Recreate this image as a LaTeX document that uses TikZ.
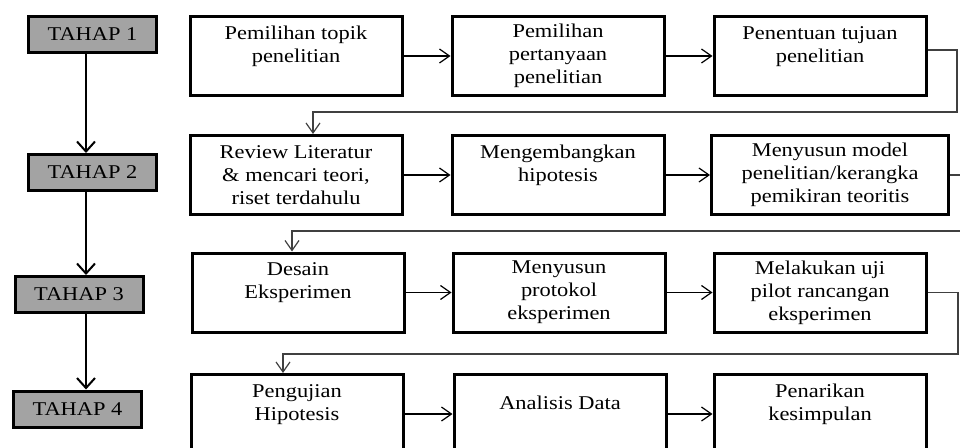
\documentclass[tikz,border=0pt]{standalone}
\usepackage{fontspec}
\setmainfont{Liberation Serif}[FakeStretch=1.15]
\usetikzlibrary{arrows.meta}

\begin{document}
\begin{tikzpicture}[x=1pt,y=-1pt]
	\tikzstyle{every node}+=[inner sep=0pt, align=center, font=\fontsize{19.5}{23}\selectfont]
	\tikzstyle{tahap}=[draw=black, line width=3pt, fill=black!36, minimum width=128pt, minimum height=36pt]
	\tikzstyle{proses}=[draw=black, line width=3pt, fill=white, minimum width=212pt, minimum height=79pt]
	\tikzstyle{panah}=[black, line width=1.2pt, -{Straight Barb[length=10pt,width=14pt]}]
	\tikzstyle{turun}=[black, line width=2pt, -{Straight Barb[length=10pt,width=18pt]}]
	\tikzstyle{belok}=[black!75, line width=1.2pt, -{Straight Barb[length=10pt,width=14pt]}]
	\clip (0,0) rectangle (960,447);
	\node [tahap] (t1) at (92.5,34.5) {TAHAP 1};
	\node [tahap] (t2) at (92.5,172.5) {TAHAP 2};
	\node [tahap] (t3) at (79,294.5) {TAHAP 3};
	\node [tahap] (t4) at (77.5,409) {TAHAP 4};
	\coordinate (sumbu) at (86,0);
	\draw [turun] (t1.south -| sumbu) -- (t2.north -| sumbu);
	\draw [turun] (t2.south -| sumbu) -- (t3.north -| sumbu);
	\draw [turun] (t3.south -| sumbu) -- (t4.north -| sumbu);
	\node [proses] (p11) at (296,56) {Pemilihan topik\\penelitian\\\mbox{}};
	\node [proses] (p12) at (558,56) {Pemilihan\\pertanyaan\\penelitian};
	\node [proses] (p13) at (820,56) {Penentuan tujuan\\penelitian\\\mbox{}};
	\node [proses] (p21) at (296,175) {Review Literatur\\\& mencari teori,\\riset terdahulu};
	\node [proses] (p22) at (558,175) {Mengembangkan\\hipotesis\\\mbox{}};
	\node [proses, minimum width=237pt] (p23) at (830,175) {Menyusun model\\penelitian/kerangka\\pemikiran teoritis};
	\node [proses] (p31) at (298,292.5) {Desain\\Eksperimen\\\mbox{}};
	\node [proses] (p32) at (559,292.5) {Menyusun\\protokol\\eksperimen};
	\node [proses] (p33) at (820,292.5) {Melakukan uji\\pilot rancangan\\eksperimen};
	\node [proses] (p41) at (297,414) {Pengujian\\Hipotesis\\\mbox{}};
	\node [proses] (p42) at (560,414) {Analisis Data\\\mbox{}};
	\node [proses] (p43) at (820,414) {Penarikan\\kesimpulan\\\mbox{}};
	\draw [panah] (p11) -- (p12);
	\draw [panah] (p12) -- (p13);
	\draw [panah] (p21) -- (p22);
	\draw [panah] (p22) -- (p23);
	\draw [panah] (p31) -- (p32);
	\draw [panah] (p32) -- (p33);
	\draw [panah] (p41) -- (p42);
	\draw [panah] (p42) -- (p43);
	\coordinate (b1) at (957,112);
	\coordinate (b2) at (975,231);
	\coordinate (b3) at (958,354);
	\draw [belok] ([yshift=6pt]p13.east) -| (b1) -| ([xshift=17pt]p21.north);
	\draw [belok] (p23.east) -| (b2) -| ([xshift=-6pt]p31.north);
	\draw [belok] (p33.east) -| (b3) -| ([xshift=-14pt]p41.north);
\end{tikzpicture}
\end{document}
